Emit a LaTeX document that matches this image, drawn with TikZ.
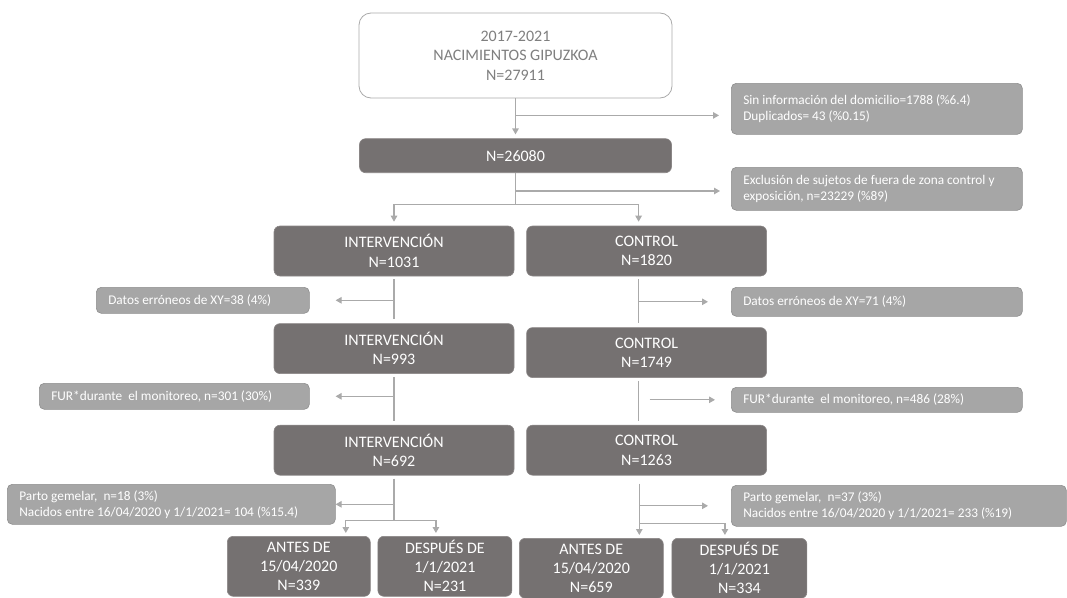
\documentclass[tikz,border=0pt]{standalone}
\usepackage{fontspec}
\setmainfont{Carlito}
\usepackage{xcolor}
\usepackage{tikz}
\usetikzlibrary{arrows.meta,positioning,calc}
\definecolor{cMain}{HTML}{757171}
\definecolor{cExcl}{HTML}{A6A6A6}
\definecolor{cExclLine}{HTML}{8E8E8E}
\definecolor{cLine}{HTML}{AAAAAA}
\definecolor{cText}{HTML}{7F7F7F}
\newcommand{\mainsz}{\fontsize{16}{19.5}\selectfont}
\newcommand{\botsz}{\fontsize{16}{19}\selectfont}
\newcommand{\exclsz}{\fontsize{13.3}{16}\selectfont}
\tikzset{
  start/.style ={rectangle, rounded corners=12pt, draw=cLine, line width=0.8pt, fill=white,
                 text=cText, align=center, font=\mainsz, minimum width=313pt, minimum height=85pt},
  grp/.style   ={rectangle, rounded corners=6pt, draw=cMain!85!white, line width=0.6pt, fill=cMain,
                 text=white, align=center, font=\mainsz, minimum width=240pt, minimum height=50pt},
  bot/.style   ={grp, font=\botsz, minimum height=60pt, anchor=north west},
  excl/.style  ={rectangle, rounded corners=5pt, draw=cExclLine, line width=0.6pt, fill=cExcl,
                 text=white, align=flush left, font=\exclsz, inner xsep=12pt, inner ysep=2pt,
                 anchor=north west},
  ln/.style    ={draw=cLine, line width=1.2pt},
  fl/.style    ={ln, -{Triangle[length=6pt,width=6.5pt]}},
}
\begin{document}
\begin{tikzpicture}[x=1pt,y=1pt]
  \useasboundingbox (0,0) rectangle (1067,-597);
  % main column
  \node[start] (top) at (515.5,-55.5) {2017-2021\\NACIMIENTOS GIPUZKOA\\N=27911};
  \node[grp,minimum width=312pt,minimum height=34pt,below=40pt of top] (total) {N=26080};
  \node[grp] (int1) at (394,-251) {INTERVENCIÓN\\N=1031};
  \node[grp,right=12pt of int1] (ctl1) {CONTROL\\N=1820};
  \node[grp,below=47pt of int1] (int2) {INTERVENCIÓN\\N=993};
  \node[grp,below=51pt of ctl1] (ctl2) {CONTROL\\N=1749};
  \node[grp,below=51pt of int2] (int3) {INTERVENCIÓN\\N=692};
  \node[grp,below=47pt of ctl2] (ctl3) {CONTROL\\N=1263};
  \node[bot,minimum width=143pt] (antesI) at (227,-536) {ANTES DE\\15/04/2020\\N=339};
  \node[bot,minimum width=134pt,right=7pt of antesI] (despI) {DESPUÉS DE\\1/1/2021\\N=231};
  \node[bot,minimum width=144pt] (antesC) at (519,-538) {ANTES DE\\15/04/2020\\N=659};
  \node[bot,minimum width=135pt,right=8pt of antesC] (despC) {DESPUÉS DE\\1/1/2021\\N=334};
  % exclusions
  \node[excl,text width=267pt,minimum height=51pt] (excl1) at (731,-83)
    {Sin información del domicilio=1788 (\%6.4)\\Duplicados= 43 (\%0.15)};
  \node[excl,text width=267pt,minimum height=43pt] (excl2) at (731,-167)
    {Exclusión de sujetos de fuera de zona control y\\exposición, n=23229 (\%89)};
  \node[excl,text width=189pt,minimum height=26pt] (datosL) at (96,-287) {Datos erróneos de XY=38 (4\%)};
  \node[excl,text width=267pt,minimum height=29pt] (datosR) at (731,-287) {Datos erróneos de XY=71 (4\%)};
  \node[excl,text width=246pt,minimum height=26pt] (furL) at (39,-383) {FUR*durante\ \ el monitoreo, n=301 (30\%)};
  \node[excl,text width=267pt,minimum height=25pt] (furR) at (731,-387) {FUR*durante\ \ el monitoreo, n=486 (28\%)};
  \node[excl,text width=304pt,minimum height=40pt] (partoL) at (7,-484)
    {Parto gemelar,\ \ n=18 (3\%)\\Nacidos entre 16/04/2020 y 1/1/2021= 104 (\%15.4)};
  \node[excl,text width=311pt,minimum height=41pt] (partoR) at (731,-485)
    {Parto gemelar,\ \ n=37 (3\%)\\Nacidos entre 16/04/2020 y 1/1/2021= 233 (\%19)};
  % connectors
  \coordinate (j1) at ($(top.south)!0.425!(total.north)$);
  \coordinate (j2) at ($(total.south)+(0,-18)$);
  \coordinate (s1) at ($(total.south |- int1.north)+(0,21)$);
  \draw[fl,shorten >=4pt] (top) -- (total);
  \draw[fl,shorten >=12pt] (j1) -- (j1 -| excl1.west);
  \draw[ln] (total.south) -- (s1);
  \draw[fl,shorten >=11pt] (j2) -- (j2 -| excl2.west);
  \draw[fl,shorten >=4pt] (s1) -| (int1.north);
  \draw[fl,shorten >=4pt] (s1) -| ([xshift=-8pt]ctl1.north);
  \draw[ln,shorten <=3pt,shorten >=4pt] (int1) -- (int2);
  \draw[fl,shorten >=26pt] (int1.south |- datosL.east) -- (datosL.east);
  \draw[ln,shorten <=3pt,shorten >=4pt] ([xshift=-8pt]ctl1.south) -- ([xshift=-8pt]ctl2.north);
  \draw[fl,shorten >=23pt] ([xshift=-8pt]ctl1.south |- datosR.west) -- (datosR.west);
  \draw[ln,shorten <=3pt,shorten >=4pt] (int2) -- (int3);
  \draw[fl,shorten >=26pt] (int2.south |- furL.east) -- (furL.east);
  \draw[ln,shorten <=3pt,shorten >=4pt] ([xshift=-8pt]ctl2.south) -- ([xshift=-8pt]ctl3.north);
  \draw[fl,shorten <=11pt,shorten >=16pt] ([xshift=-8pt]ctl2.south |- furR.west) -- (furR.west);
  \coordinate (sI) at ($(int3.south)+(0,-45)$);
  \coordinate (sC) at ($([xshift=-7pt]ctl3.south)+(0,-48)$);
  \draw[ln,shorten <=3pt] (int3.south) -- (sI);
  \draw[fl] (int3.south |- partoL.east) -- (partoL.east);
  \draw[fl,shorten >=3pt] (sI) -| ([xshift=47pt]antesI.north);
  \draw[fl,shorten >=3pt] (sI) -| ([xshift=-9pt]despI.north);
  \draw[ln,shorten <=8pt] ([xshift=-7pt]ctl3.south) -- (sC);
  \draw[fl,shorten >=23pt] (sC |- partoR.west) -- (partoR.west);
  \draw[fl,shorten >=3pt] (sC) -| ([xshift=48pt]antesC.north);
  \draw[fl,shorten >=3pt] (sC) -| ([xshift=-14.5pt]despC.north);
\end{tikzpicture}
\end{document}
